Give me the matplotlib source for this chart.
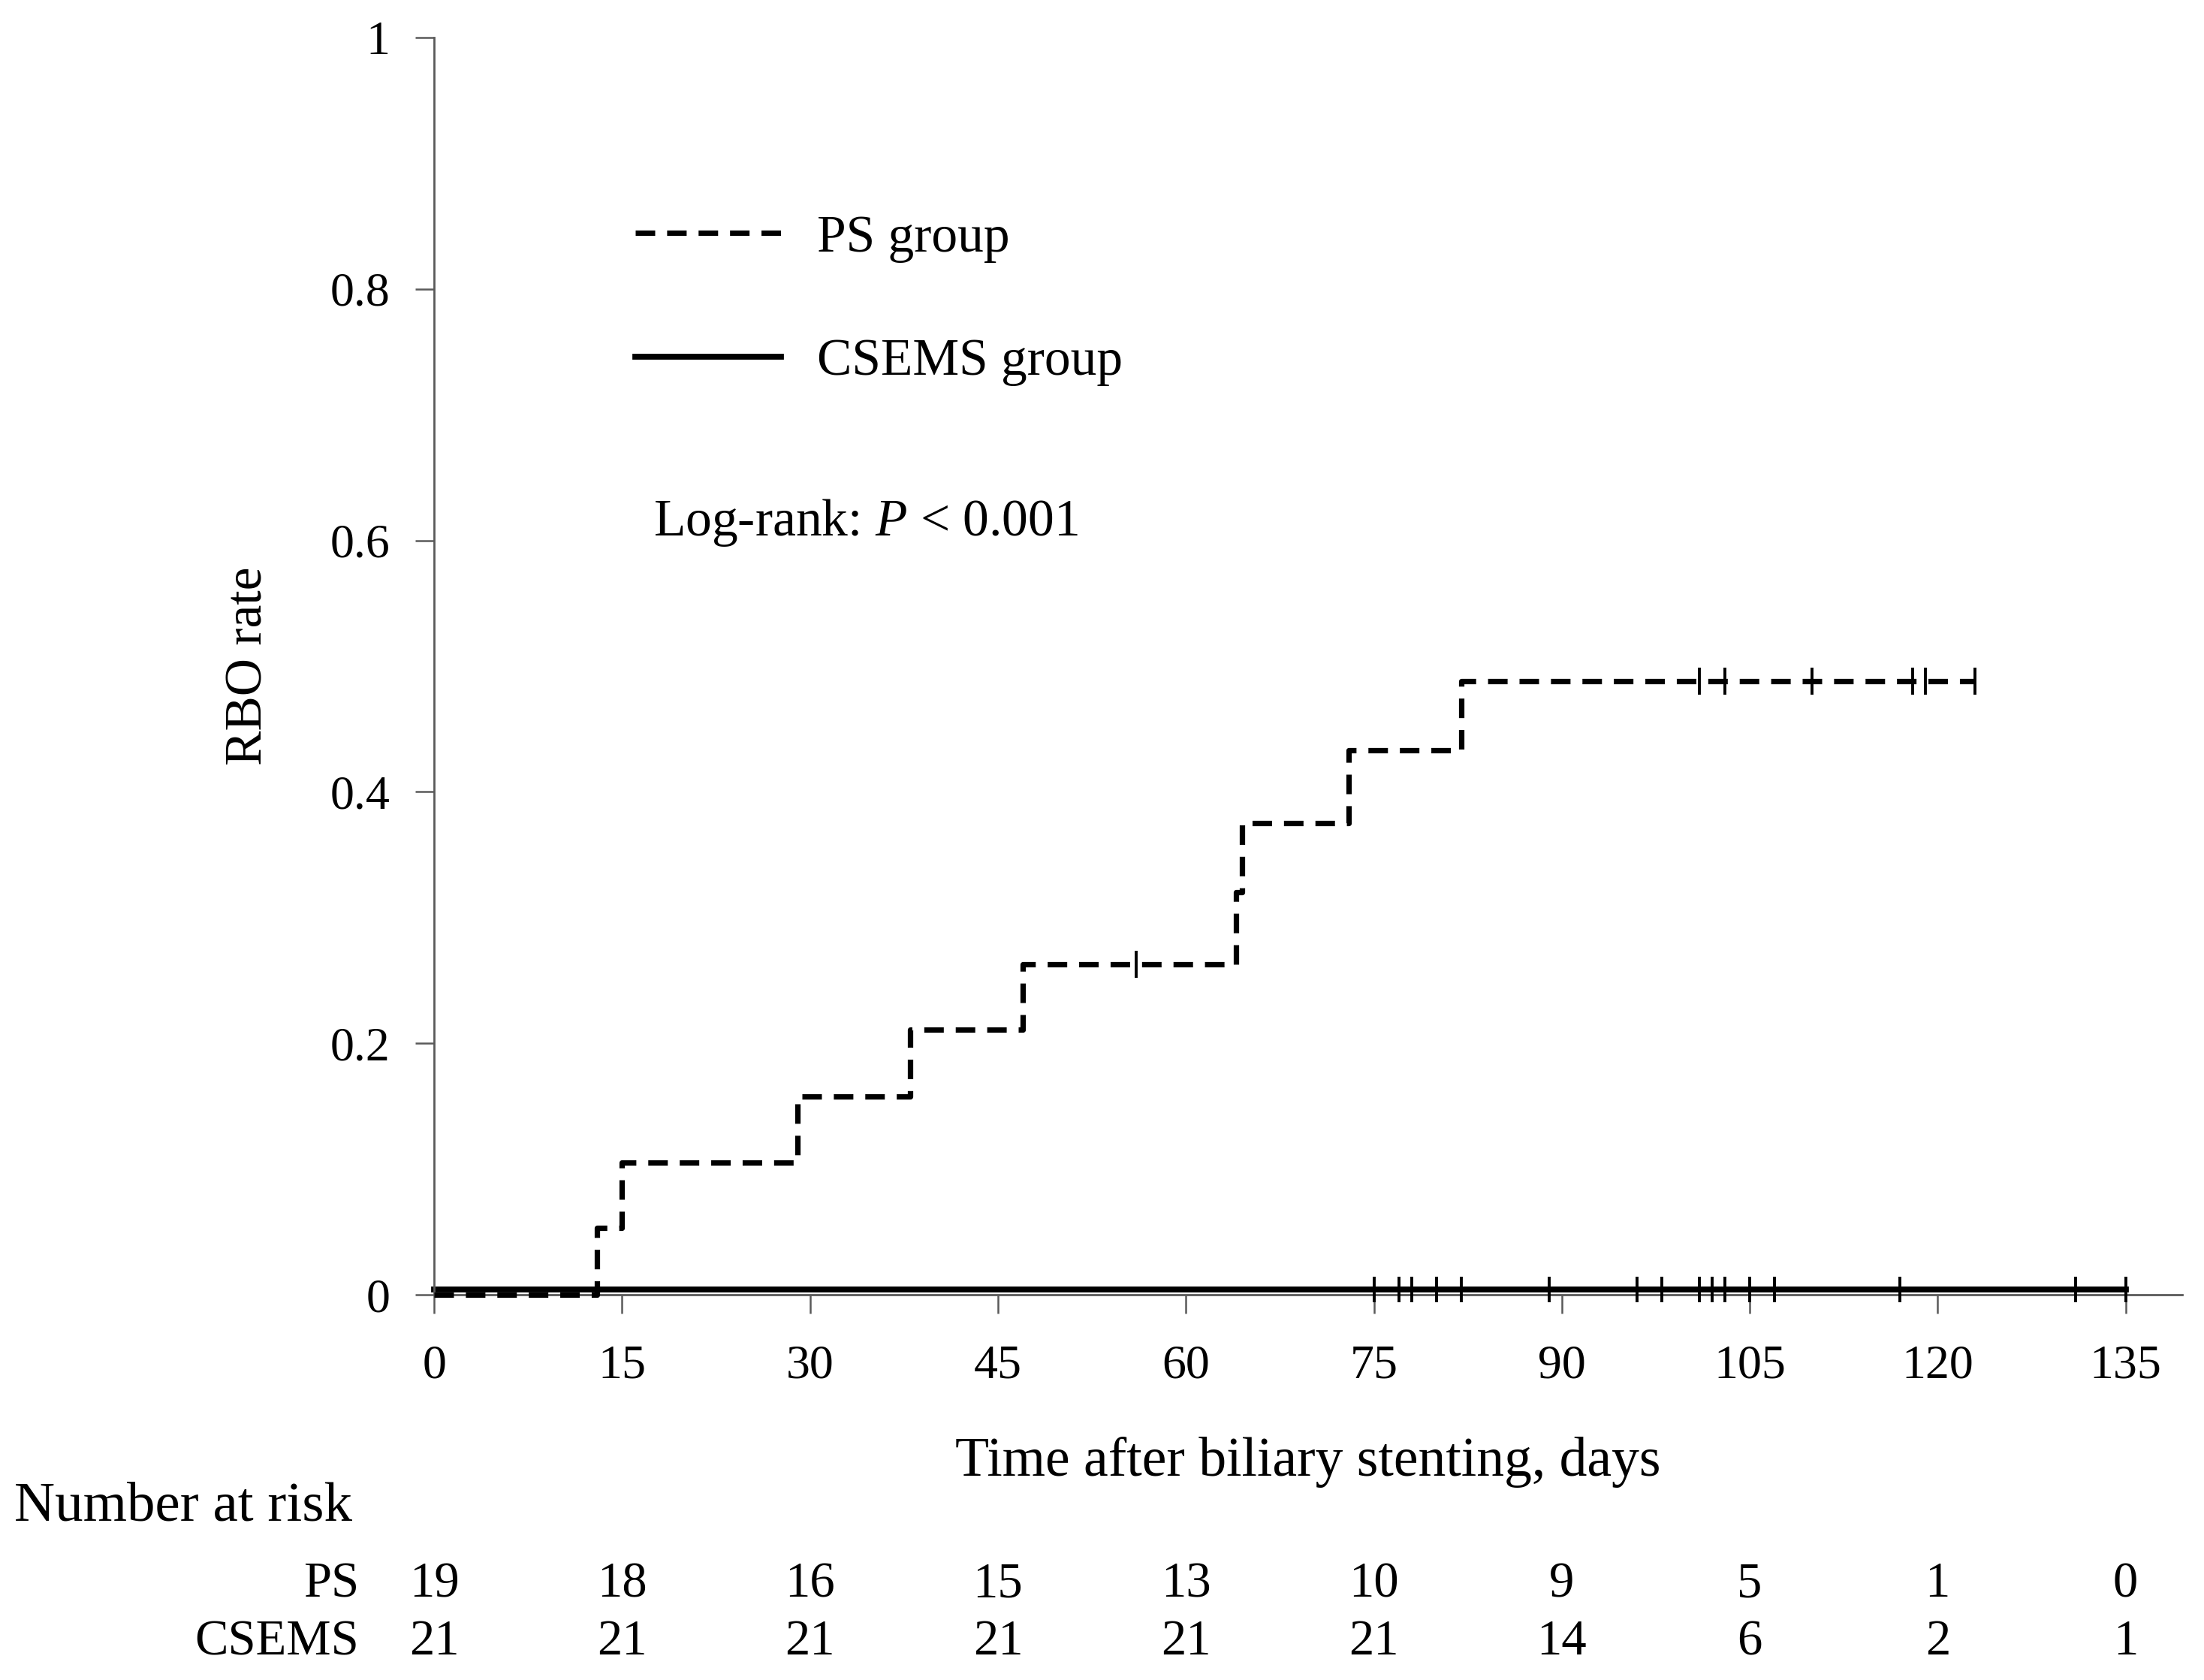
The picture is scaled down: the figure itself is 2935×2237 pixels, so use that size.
import matplotlib
matplotlib.use("Agg")
import matplotlib.pyplot as plt
import matplotlib.transforms as mtransforms
import numpy as np

plt.rcParams['font.family'] = ['Liberation Serif', 'DejaVu Serif']
plt.rcParams['mathtext.fontset'] = 'custom'
plt.rcParams['mathtext.rm'] = 'Liberation Serif'
plt.rcParams['mathtext.it'] = 'Liberation Serif:italic'

# Kaplan-Meier step data (cumulative RBO rate)
ps_times = [0, 13, 15, 29, 38, 47, 64, 64.5, 73, 82, 123]
ps_rate = [0, 0.053, 0.105, 0.158, 0.211, 0.263, 0.320, 0.375, 0.433, 0.488, 0.488]
ps_censor_times = [56, 101, 103, 110, 118, 119, 123]

csems_times = [0, 135]
csems_rate = [0, 0]
csems_censor_times = [75, 77, 78, 80, 82, 89, 96, 98, 101, 102, 103, 105, 107,
                      117, 131, 135]

# number at risk table
risk_times = [0, 15, 30, 45, 60, 75, 90, 105, 120, 135]
ps_at_risk = [19, 18, 16, 15, 13, 10, 9, 5, 1, 0]
csems_at_risk = [21, 21, 21, 21, 21, 21, 14, 6, 2, 1]

y_ticks = [0, 0.2, 0.4, 0.6, 0.8, 1.0]
y_tick_labels = ["0", "0.2", "0.4", "0.6", "0.8", "1"]


def step_value(times, values, t):
    """ value of a post-step curve at time t """
    idx = np.searchsorted(times, t, side="right") - 1
    return values[idx]


fig = plt.figure(figsize=(14.675, 11.185), dpi=200)
ax = fig.add_axes([0.197, 0.2293, 0.793, 0.7483])

spine_col = "#5a5a5a"

# PS group (dashed)
ax.step(ps_times, ps_rate, where="post", color="black", lw=2.6,
        linestyle=(0, (3.6, 2.2)), clip_on=False, zorder=3, label="PS group")
ps_c = [step_value(ps_times, ps_rate, t) for t in ps_censor_times]
ax.plot(ps_censor_times, ps_c, linestyle="none", marker="|", ms=13, mew=1.4,
        color="black", clip_on=False, zorder=4)

# CSEMS group (solid), lifted a little above the axis like the original
lift = mtransforms.offset_copy(ax.transData, fig=fig, x=0, y=2.5, units="points")
ax.step(csems_times, csems_rate, where="post", color="black", lw=2.8,
        clip_on=False, zorder=2, transform=lift, label="CSEMS group")
cs_c = [step_value(csems_times, csems_rate, t) for t in csems_censor_times]
ax.plot(csems_censor_times, cs_c, linestyle="none", marker="|", ms=12, mew=1.4,
        color="black", clip_on=False, zorder=4, transform=lift)

ax.set_xlim(0, 139.5)
ax.set_ylim(0, 1)
ax.set_xticks(risk_times)
ax.set_yticks(y_ticks)
ax.set_yticklabels(y_tick_labels)

for side in ["top", "right"]:
    ax.spines[side].set_visible(False)
for side in ["left", "bottom"]:
    ax.spines[side].set_color(spine_col)
    ax.spines[side].set_linewidth(1.0)

ax.tick_params(axis="both", direction="out", length=9, width=0.9,
               color=spine_col, labelsize=23)
ax.tick_params(axis="x", pad=15)
ax.tick_params(axis="y", pad=12)

ax.set_xlabel("Time after biliary stenting, days", fontsize=26.5)
ax.xaxis.set_label_coords(0.5, -0.133)
ax.xaxis.label.set_verticalalignment("center")
ax.set_ylabel("RBO rate", fontsize=25)
ax.yaxis.set_label_coords(-0.106, 0.5)
ax.yaxis.label.set_verticalalignment("center")

ax.legend(loc="center left", bbox_to_anchor=(0.115, 0.791), frameon=False,
          fontsize=25, handlelength=2.8, handletextpad=0.68, labelspacing=1.45,
          borderpad=0, borderaxespad=0)

ax.text(0.1255, 0.614, r"Log-rank: $\mathit{P}$ < 0.001", transform=ax.transAxes,
        fontsize=25, ha="left", va="center")

# number at risk
trans = mtransforms.blended_transform_factory(ax.transData, fig.transFigure)
fig.text(0.0065, 0.103, "Number at risk", fontsize=27, ha="left", va="center")
fig.text(0.163, 0.0568, "PS", fontsize=24, ha="right", va="center")
fig.text(0.163, 0.0224, "CSEMS", fontsize=24, ha="right", va="center")
for t, n in zip(risk_times, ps_at_risk):
    ax.text(t, 0.0568, str(n), transform=trans, fontsize=24, ha="center",
            va="center", clip_on=False)
for t, n in zip(risk_times, csems_at_risk):
    ax.text(t, 0.0224, str(n), transform=trans, fontsize=24, ha="center",
            va="center", clip_on=False)

fig.savefig("out.png", dpi=200, facecolor="white")
